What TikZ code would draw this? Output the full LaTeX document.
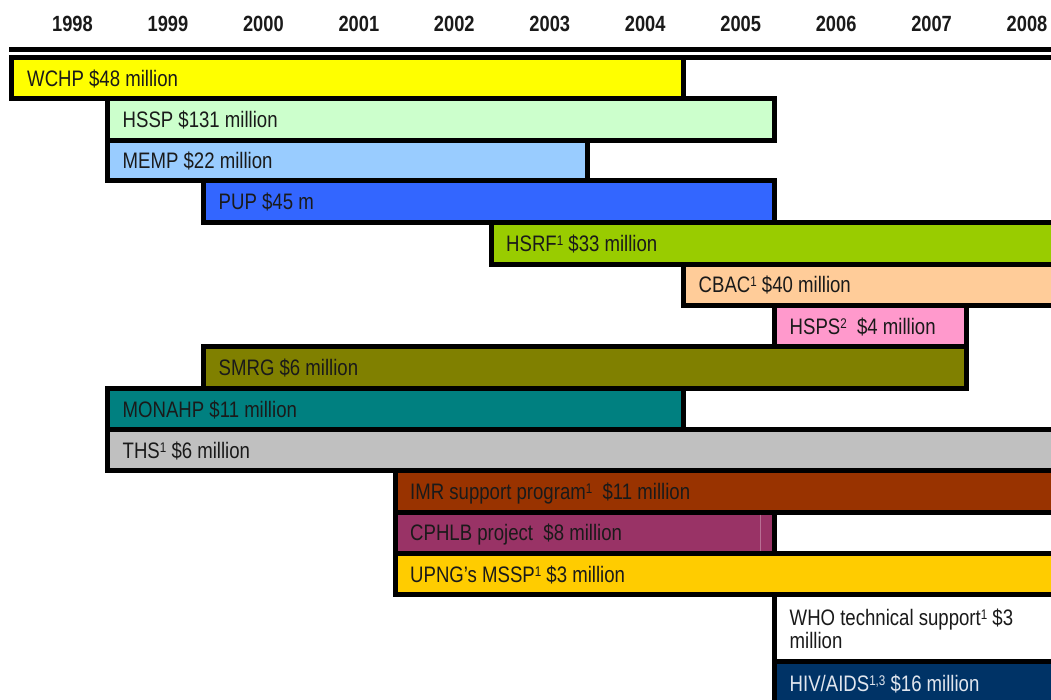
\documentclass[tikz,border=0pt]{standalone}
\usepackage{fontspec}
\setmainfont{Liberation Sans}[FakeStretch=0.83]
\definecolor{txt}{HTML}{1A1A1A}
\definecolor{cWCHP}{HTML}{FFFF00}
\definecolor{cHSSP}{HTML}{CCFFCC}
\definecolor{cMEMP}{HTML}{99CCFF}
\definecolor{cPUP}{HTML}{3366FF}
\definecolor{cHSRF}{HTML}{99CC00}
\definecolor{cCBAC}{HTML}{FFCC99}
\definecolor{cHSPS}{HTML}{FF99CC}
\definecolor{cSMRG}{HTML}{808000}
\definecolor{cMONAHP}{HTML}{008080}
\definecolor{cTHS}{HTML}{C0C0C0}
\definecolor{cIMR}{HTML}{993300}
\definecolor{cCPHLB}{HTML}{993366}
\definecolor{cUPNG}{HTML}{FFCC00}
\definecolor{cHIV}{HTML}{003366}
\definecolor{hivtxt}{HTML}{E1E6EE}
\newcommand\sups[1]{\raisebox{6pt}{\fontsize{14}{14}\selectfont #1}}
\begin{document}
\begin{tikzpicture}[x=1pt,y=-1pt,
  bar/.style={draw=black, line width=5pt},
  lbl/.style={anchor=base west, inner sep=0pt, font=\fontsize{22.4}{23}\selectfont, text=txt, align=left},
  yr/.style={anchor=base, inner sep=0pt, font=\bfseries\fontsize{22}{24}\selectfont, text=txt},
  rule/.style={draw=black, line width=5pt}]
\useasboundingbox (0,0) rectangle (1051,699);
\clip (0,0) rectangle (1051,699);
% years
\foreach \yy [count=\i from 0] in {1998,1999,2000,2001,2002,2003,2004,2005,2006,2007,2008}
  \node[yr] (y\yy) at ({72.5+95.45*\i},31.7) {\yy};
% header rule
\coordinate (r1a) at (9,49);
\coordinate (r1b) at (1060,49);
\coordinate (r2a) at (9,57.5);
\coordinate (r2b) at (1060,57.5);
\draw[rule] (r1a) -- (r1b);
\draw[rule] (r2a) -- (r2b);
% bars
\path[bar, fill=cWCHP]   (11.5,57.5) rectangle (683.5,98.5);
\path[bar, fill=cHSSP]   (107.5,98.5) rectangle (774.5,140.5);
\path[bar, fill=cMEMP]   (107.5,140.5) rectangle (587,180.5);
\path[bar, fill=cPUP]    (203.5,180.5) rectangle (774.5,222.5);
\path[bar, fill=cHSRF]   (491,222.5) rectangle (1060,264);
\path[bar, fill=cCBAC]   (683.5,264) rectangle (1060,305.5);
\path[bar, fill=cHSPS]   (774.5,305.5) rectangle (966,346.5);
\path[bar, fill=cSMRG]   (203.5,346.5) rectangle (966,388.5);
\path[bar, fill=cMONAHP] (107.5,388.5) rectangle (683.5,429.5);
\path[bar, fill=cTHS]    (107.5,429.5) rectangle (1060,470.5);
\path[bar, fill=cIMR]    (395,470.5) rectangle (1060,512);
\path[bar, fill=cCPHLB]  (395,512) rectangle (774.5,553.5);
\path[bar, fill=cUPNG]   (395,553.5) rectangle (1060,594.5);
\path[bar, fill=white]   (774.5,594.5) rectangle (1060,661.5);
\path[bar, fill=cHIV]    (774.5,661.5) rectangle (1060,706);
\draw[cCPHLB!70!white, line width=0.8pt] (760.5,514.5) -- (760.5,551);
% labels
\node[lbl] (wchp)   at (27,86)      {WCHP \$48 million};
\node[lbl] (hssp)   at (122.5,127.5) {HSSP \$131 million};
\node[lbl] (memp)   at (122.5,168.5) {MEMP \$22 million};
\node[lbl] (pup)    at (218.5,209.5) {PUP \$45 m};
\node[lbl] (hsrf)   at (506,251)    {HSRF\sups{1} \$33 million};
\node[lbl] (cbac)   at (698.5,292.5) {CBAC\sups{1} \$40 million};
\node[lbl] (hsps)   at (789.5,334)  {HSPS\sups{2}\ \ \$4 million};
\node[lbl] (smrg)   at (218.5,375.5) {SMRG \$6 million};
\node[lbl] (monahp) at (122.5,417)  {MONAHP \$11 million};
\node[lbl] (ths)    at (122.5,458)  {THS\sups{1} \$6 million};
\node[lbl] (imr)    at (410,499)    {IMR support program\sups{1}\ \ \$11 million};
\node[lbl] (cphlb)  at (410,540.5)  {CPHLB project\ \ \$8 million};
\node[lbl] (upng)   at (410,582)    {UPNG’s MSSP\sups{1} \$3 million};
\node[lbl] (who)    at (789.5,648) {WHO technical support\sups{1} \$3\\million};
\node[lbl, text=hivtxt] (hiv) at (789.5,691) {HIV/AIDS\sups{1,3} \$16 million};
\end{tikzpicture}
\end{document}
